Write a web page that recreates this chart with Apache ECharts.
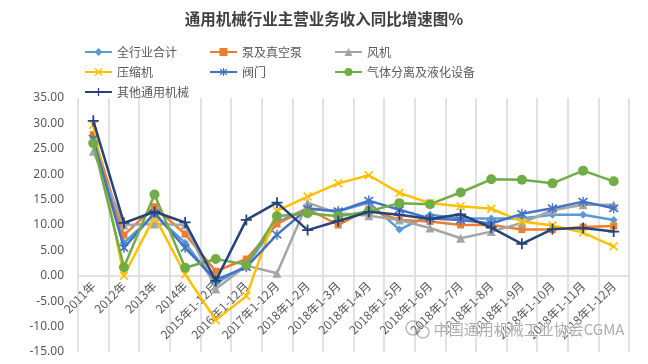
<!DOCTYPE html>
<html>
<head>
<meta charset="utf-8">
<script src="https://cdn.jsdelivr.net/npm/echarts@6/dist/echarts.min.js"></script>
<style>
html,body{margin:0;padding:0;background:#fff;}
#c{width:648px;height:364px;}
</style>
</head>
<body>
<div id="c"></div>
<script>
const categories = ['2011年','2012年','2013年','2014年','2015年1-12月','2016年1-12月','2017年1-12月','2018年1-2月','2018年1-3月','2018年1-4月','2018年1-5月','2018年1-6月','2018年1-7月','2018年1-8月','2018年1-9月','2018年1-10月','2018年1-11月','2018年1-12月'];
const yTicks = {min: -15, max: 35, interval: 5};

const allIndustry = [27.2, 6.5, 12.0, 6.5, -1.5, 2.0, 10.5, 13.3, 12.7, 14.4, 9.1, 12.0, 11.3, 11.3, 11.3, 12.0, 12.0, 11.0];
const pumps       = [27.8, 8.0, 13.6, 8.2, 0.9, 3.3, 10.2, 13.2, 10.0, 13.1, 11.0, 10.7, 10.0, 10.0, 9.1, 9.1, 9.6, 9.8];
const fans        = [24.5, 10.0, 10.2, 10.0, -2.6, 2.0, 0.5, 14.4, 12.3, 11.8, 11.0, 9.4, 7.4, 8.7, 10.4, 12.9, 14.0, 14.0];
const compressors = [29.7, 0.0, 11.7, 0.3, -8.7, -4.0, 12.8, 15.6, 18.2, 19.8, 16.3, 14.3, 13.7, 13.2, 10.7, 9.9, 8.5, 5.8];
const valves      = [27.0, 5.5, 12.4, 5.5, -0.8, 1.7, 8.1, 13.2, 12.7, 14.8, 13.0, 11.3, 11.0, 10.3, 12.2, 13.3, 14.6, 13.3];
const gasSep      = [26.1, 1.7, 16.0, 1.6, 3.3, 2.2, 11.7, 12.3, 11.7, 12.7, 14.3, 14.1, 16.4, 19.0, 18.9, 18.2, 20.7, 18.6];
const others      = [30.5, 10.4, 12.6, 10.5, -1.0, 11.0, 14.4, 9.0, 10.8, 12.6, 12.0, 11.2, 12.1, 9.5, 6.3, 9.2, 9.4, 8.7];

const names = ['全行业合计','泵及真空泵','风机','压缩机','阀门','气体分离及液化设备','其他通用机械'];
const colors = ['#5B9BD5','#ED7D31','#A5A5A5','#FFC000','#4472C4','#70AD47','#264478'];
const dataSets = [allIndustry, pumps, fans, compressors, valves, gasSep, others];

const X_PATH = 'path://M0,1.3L1.3,0L5,3.7L8.7,0L10,1.3L6.3,5L10,8.7L8.7,10L5,6.3L1.3,10L0,8.7L3.7,5Z';
const STAR_PATH = 'path://M0,1.3L1.3,0L5,3.7L8.7,0L10,1.3L6.3,5L10,8.7L8.7,10L5,6.3L1.3,10L0,8.7L3.7,5Z M4.3,-1H5.7V11H4.3Z';
const PLUS_PATH = 'path://M4.2,0H5.8V4.2H10V5.8H5.8V10H4.2V5.8H0V4.2H4.2Z';
const symbols = ['diamond','rect','triangle',X_PATH,STAR_PATH,'circle',PLUS_PATH];
const sizes = [8,7,9,9,10,10,11];

const series = names.map((n,i)=>({
  name: n,
  type: 'line',
  data: dataSets[i],
  symbol: symbols[i],
  symbolSize: sizes[i],
  showAllSymbol: true,
  lineStyle: {color: colors[i], width: 2.5},
  itemStyle: {color: colors[i]},
  z: 2 + i,
  animation: false
}));

const legendStyle = {color:'#595959', fontSize:12, fontFamily:'"Noto Sans CJK SC", sans-serif'};
const mkLegend = (left, data) => ({
  left: left, top: 41, orient: 'vertical', itemGap: 8, itemWidth: 27, itemHeight: 10,
  data: data, textStyle: legendStyle, selectedMode: false
});

const gridTop = 98, gridBottom = 12, chartH = 364;
const plotH = chartH - gridTop - gridBottom;
const zeroOffset = plotH * (0 - yTicks.min) / (yTicks.max - yTicks.min);

const chart = echarts.init(document.getElementById('c'), null, {renderer:'canvas'});
chart.setOption({
  animation: false,
  backgroundColor: '#fff',
  title: {
    text: '通用机械行业主营业务收入同比增速图%',
    left: 'center', top: 6,
    textStyle: {color:'#404040', fontSize:15.5, fontWeight:'bold', fontFamily:'"Noto Sans CJK SC", sans-serif'}
  },
  legend: [
    mkLegend(79, ['全行业合计','压缩机','其他通用机械']),
    mkLegend(204, ['泵及真空泵','阀门']),
    mkLegend(329, ['风机','气体分离及液化设备'])
  ],
  grid: {left: 78, right: 19, top: gridTop, bottom: gridBottom, containLabel: false, outerBoundsMode: 'none'},
  xAxis: {
    type: 'category',
    data: categories,
    boundaryGap: true,
    position: 'bottom',
    offset: -zeroOffset,
    axisLine: {onZero: false, lineStyle: {color:'#d9d9d9', width: 1.5}},
    axisTick: {show: false},
    splitLine: {show: true, lineStyle: {color:'#d9d9d9', width: 1.5}},
    axisLabel: {rotate: 45, interval: 0, color:'#595959', fontSize: 12, margin: 8, fontFamily:'"Noto Sans CJK SC", sans-serif'}
  },
  yAxis: {
    type: 'value',
    min: yTicks.min, max: yTicks.max, interval: yTicks.interval,
    axisLine: {show: false},
    axisTick: {show: false},
    splitLine: {show: false},
    axisLabel: {color:'#595959', fontSize: 12, margin: 14, formatter: v => v.toFixed(2), fontFamily:'"Noto Sans", sans-serif'}
  },
  graphic: [
    {type:'circle', shape:{cx:413, cy:328, r:7}, style:{fill:'none', stroke:'rgba(140,140,140,0.6)', lineWidth:1.5}, z:100},
    {type:'circle', shape:{cx:423, cy:332, r:6}, style:{fill:'none', stroke:'rgba(140,140,140,0.6)', lineWidth:1.5}, z:100},
    {type:'text', left: 433, top: 321, z: 100,
     style:{text:'中国通用机械工业协会CGMA', fill:'rgba(120,120,120,0.6)', stroke:'rgba(255,255,255,0.7)', lineWidth:1.5,
            font:'15px "Noto Sans CJK SC", sans-serif'}}
  ],
  series: series
});
</script>
</body>
</html>
